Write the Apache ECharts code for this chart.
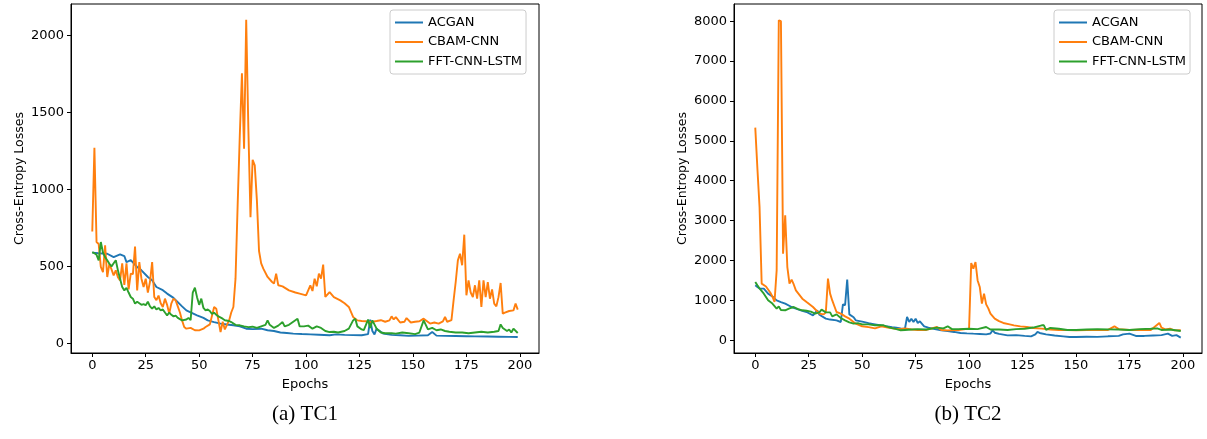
<!DOCTYPE html>
<html>
<head>
<meta charset="utf-8">
<script src="https://cdn.jsdelivr.net/npm/echarts@6/dist/echarts.min.js"></script>
<style>
html,body{margin:0;padding:0;background:#fff;}
#chart{width:1207px;height:439px;}
</style>
</head>
<body>
<div id="chart"></div>
<script>
// ---------- Data ----------
const seriesNames = ['ACGAN', 'CBAM-CNN', 'FFT-CNN-LSTM'];
const xTickLabels = [0, 25, 50, 75, 100, 125, 150, 175, 200];
const yTicksTC1 = [0, 500, 1000, 1500, 2000];
const yTicksTC2 = [0, 1000, 2000, 3000, 4000, 5000, 6000, 7000, 8000];
const panelTitles = ['(a) TC1', '(b) TC2'];

// TC1
const tc1AcganX = [0,3,7,10,13,15,16,18,21,23,
  26,28,30,33,35,38,40,42,44,47,
  49,52,54,57,60,63,66,69,72,75,
  79,82,85,88,91,94,98,102,106,111,
  114,118,122,126,129,130,131,132,133,134,
  136,140,144,148,152,157,159,161,165,170,
  175,179,185,190,195,199];
const tc1AcganY = [589,585,582,560,578,567,528,540,496,474,
  431,410,366,345,323,295,268,240,214,195,
  182,165,149,138,128,122,117,110,95,92,
  95,85,80,70,67,63,60,58,56,52,
  58,55,53,52,60,154,80,58,95,84,
  63,55,52,48,50,52,73,50,48,47,
  46,45,44,43,42,41];

const tc1CbamX = [0,1,2,3,4,5,6,7,8,9,
  10,11,12,13,14,15,16,17,18,19,
  20,21,22,23,24,25,26,27,28,29,
  30,31,32,33,34,35,36,37,38,39,
  40,41,42,43,44,46,48,50,52,53,
  55,57,58,60,61,62,63,64,65,66,
  67,68,69,70,71,72,73,74,75,76,
  77,78,79,80,82,84,85,86,87,89,
  92,95,97,100,102,103,104,105,106,107,
  108,109,111,113,116,118,120,122,124,126,
  128,130,133,135,137,139,140,141,142,144,
  146,147,149,151,153,155,158,160,162,164,
  165,166,168,169,170,171,172,173,174,175,
  176,177,178,179,180,181,182,183,184,185,
  186,187,188,189,190,191,192,193,195,197,
  198,199];
const tc1CbamY = [727,1271,658,645,496,463,636,431,517,480,
  441,474,430,409,520,380,520,350,453,450,
  628,344,528,420,366,420,330,400,528,301,
  280,310,260,236,290,250,193,260,290,279,
  240,200,149,106,95,100,85,84,95,106,
  123,236,225,73,140,90,120,149,200,236,
  420,900,1350,1755,1264,2102,1400,820,1193,1156,
  929,600,520,485,431,400,388,453,377,370,
  344,330,323,312,377,340,420,370,453,420,
  511,301,333,300,279,260,236,171,149,145,
  143,138,145,150,140,149,175,155,170,135,
  140,164,135,140,143,160,128,135,128,143,
  171,140,150,279,400,539,582,507,706,312,
  409,330,301,377,290,409,236,409,300,398,
  290,350,258,240,300,392,193,200,210,214,
  258,219];

const tc1FftX = [0,1,2,3,4,5,6,7,8,9,
  10,11,12,13,14,15,16,17,18,19,
  20,21,22,23,24,25,26,27,28,29,
  30,31,32,33,34,35,36,37,38,39,
  40,42,44,45,46,47,48,49,50,51,
  52,53,54,55,56,57,58,59,61,62,
  64,65,67,69,71,73,75,77,79,81,
  82,83,85,87,89,90,92,94,96,97,
  99,101,103,105,107,109,111,113,115,118,
  120,122,123,124,126,127,129,130,131,133,
  135,137,140,142,145,148,151,153,155,156,
  157,159,161,163,165,167,170,173,176,179,
  182,185,188,190,191,192,194,195,196,197,
  199];
const tc1FftY = [593,585,575,539,658,590,560,540,517,500,
  520,540,474,420,366,344,360,330,301,290,
  258,270,260,250,255,247,270,240,225,240,
  220,230,214,220,200,182,200,185,175,180,
  165,149,155,165,150,330,361,300,250,290,
  230,214,220,210,190,200,185,175,160,150,
  145,138,120,117,110,105,108,100,110,120,
  149,120,100,115,138,110,120,140,160,110,
  110,115,95,110,100,80,73,75,70,80,
  95,149,160,110,90,85,154,100,149,95,
  70,65,65,63,70,65,60,70,149,120,
  90,100,85,90,80,75,70,70,65,70,
  75,70,75,80,123,100,80,90,70,95,
  67];

// TC2
const tc2AcganX = [0,1,2,4,6,8,10,12,14,17,
  19,22,24,27,29,30,33,35,38,40,
  41,42,43,44,46,47,50,53,56,59,
  61,64,66,68,70,71,72,73,74,75,
  76,77,79,81,84,87,90,93,96,99,
  102,105,108,110,111,112,114,118,122,126,
  129,131,132,133,136,140,144,147,150,155,
  160,165,170,172,175,178,182,186,190,193,
  195,197,199];
const tc2AcganY = [1378,1337,1300,1295,1170,1100,1002,960,919,835,
  794,740,710,627,752,640,543,520,501,459,
  900,880,1521,650,580,501,470,430,401,370,
  351,330,318,300,290,585,460,543,460,543,
  435,477,351,320,280,251,230,210,184,175,
  167,160,150,170,251,190,160,125,130,110,
  100,150,209,184,150,120,100,84,84,90,
  85,100,110,150,167,110,110,120,130,167,
  110,130,67];

const tc2CbamX = [0,1,2,3,5,7,8,9,10,11,
  12,13,14,15,16,17,18,19,22,24,
  27,30,32,33,34,35,36,38,40,42,
  44,47,50,53,56,59,62,65,68,70,
  73,76,80,85,87,90,95,100,101,102,
  103,104,105,106,107,108,109,110,112,114,
  116,119,121,124,127,130,134,138,142,146,
  150,155,160,165,168,170,175,180,185,189,
  190,192,194,196,199];
const tc2CbamY = [5330,4300,3340,1420,1350,1200,1100,960,1754,8020,
  8000,2173,3132,1837,1420,1521,1400,1253,1044,960,
  835,669,650,700,1546,1170,1000,710,669,600,
  543,418,351,330,300,351,320,293,280,300,
  270,260,260,334,260,250,260,293,1938,1796,
  1963,1500,1337,919,1170,900,800,669,543,480,
  435,400,376,350,334,310,293,270,260,255,
  250,260,255,260,351,280,260,265,260,435,
  320,270,290,250,251];

const tc2FftX = [0,1,2,4,6,8,10,11,12,14,
  16,18,20,22,24,26,28,30,31,33,
  35,36,38,40,42,44,46,48,50,53,
  56,60,63,66,68,70,73,76,80,85,
  88,90,92,95,100,104,108,110,114,118,
  122,126,130,134,135,136,138,142,146,150,
  155,160,165,170,175,180,185,188,190,194,
  199];
const tc2FftY = [1462,1380,1300,1170,1002,920,794,850,760,752,
  800,835,780,752,740,720,669,700,769,700,
  700,601,650,560,501,450,418,430,400,400,
  376,376,320,280,251,260,270,280,270,318,
  300,351,280,280,290,280,334,270,270,260,
  280,290,320,376,376,260,310,290,260,260,
  270,280,275,270,260,280,290,300,260,270,
  234];

// ---------- Chart ----------
const colors = ['#1f77b4', '#ff7f0e', '#2ca02c'];
const pair = (xs, ys) => xs.map((x, i) => [x, ys[i]]);

const tickFont = { fontFamily: 'DejaVu Sans', fontSize: 13, color: '#000' };
const plain = v => String(v);

function xAxis(gridIndex) {
  return {
    type: 'value', gridIndex, min: -9.95, max: 208.95,
    name: 'Epochs', nameLocation: 'middle', nameGap: 25,
    nameTextStyle: { fontFamily: 'DejaVu Sans', fontSize: 13, color: '#000' },
    axisLine: { show: true, onZero: false, lineStyle: { color: '#000', width: 1 } },
    axisTick: { show: true, inside: false, length: 4, customValues: xTickLabels, lineStyle: { color: '#000', width: 1 } },
    axisLabel: Object.assign({ margin: 6, customValues: xTickLabels, formatter: plain }, tickFont),
    splitLine: { show: false }
  };
}
function yAxis(gridIndex, min, max, ticks) {
  return {
    type: 'value', gridIndex, min, max,
    name: 'Cross-Entropy Losses', nameLocation: 'middle', nameGap: 45, nameRotate: 90,
    nameTextStyle: { fontFamily: 'DejaVu Sans', fontSize: 12.5, color: '#000' },
    axisLine: { show: true, onZero: false, lineStyle: { color: '#000', width: 1 } },
    axisTick: { show: true, inside: false, length: 4, customValues: ticks, lineStyle: { color: '#000', width: 1 } },
    axisLabel: Object.assign({ margin: 7, customValues: ticks, formatter: plain }, tickFont),
    splitLine: { show: false }
  };
}
function line(name, idx, xs, ys, axisIndex) {
  return {
    name, type: 'line', xAxisIndex: axisIndex, yAxisIndex: axisIndex,
    data: pair(xs, ys), symbol: 'none', smooth: false,
    lineStyle: { width: 1.9, color: colors[idx] }, itemStyle: { color: colors[idx] },
    z: 2 + idx
  };
}
function legend(left) {
  return {
    orient: 'vertical', left, top: 10, data: seriesNames,
    icon: 'rect', itemWidth: 28, itemHeight: 2, itemGap: 4.5, itemTextGap: 9,
    padding: [5, 4, 5, 5],
    backgroundColor: '#fff', borderColor: '#cccccc', borderWidth: 1, borderRadius: 3,
    textStyle: { fontFamily: 'DejaVu Sans', fontSize: 13, color: '#000', lineHeight: 15 }
  };
}

const chart = echarts.init(document.getElementById('chart'), null, { renderer: 'canvas' });
chart.setOption({
  animation: false,
  backgroundColor: '#fff',
  color: colors,
  grid: [
    { left: 71, top: 4, width: 468, height: 349, show: true, borderColor: '#000', borderWidth: 1, containLabel: false },
    { left: 734, top: 4, width: 468, height: 349, show: true, borderColor: '#000', borderWidth: 1, containLabel: false }
  ],
  xAxis: [xAxis(0), xAxis(1)],
  yAxis: [yAxis(0, -63, 2205, yTicksTC1), yAxis(1, -318, 8430, yTicksTC2)],
  legend: [legend(390), legend(1054)],
  series: [
    line(seriesNames[0], 0, tc1AcganX, tc1AcganY, 0),
    line(seriesNames[1], 1, tc1CbamX, tc1CbamY, 0),
    line(seriesNames[2], 2, tc1FftX, tc1FftY, 0),
    line(seriesNames[0], 0, tc2AcganX, tc2AcganY, 1),
    line(seriesNames[1], 1, tc2CbamX, tc2CbamY, 1),
    line(seriesNames[2], 2, tc2FftX, tc2FftY, 1)
  ],
  graphic: [
    { type: 'text', x: 305, y: 414, style: { text: panelTitles[0], font: '21px "Liberation Serif"', fill: '#000', textAlign: 'center', textVerticalAlign: 'middle' } },
    { type: 'text', x: 968, y: 414, style: { text: panelTitles[1], font: '21px "Liberation Serif"', fill: '#000', textAlign: 'center', textVerticalAlign: 'middle' } }
  ]
});
</script>
</body>
</html>
